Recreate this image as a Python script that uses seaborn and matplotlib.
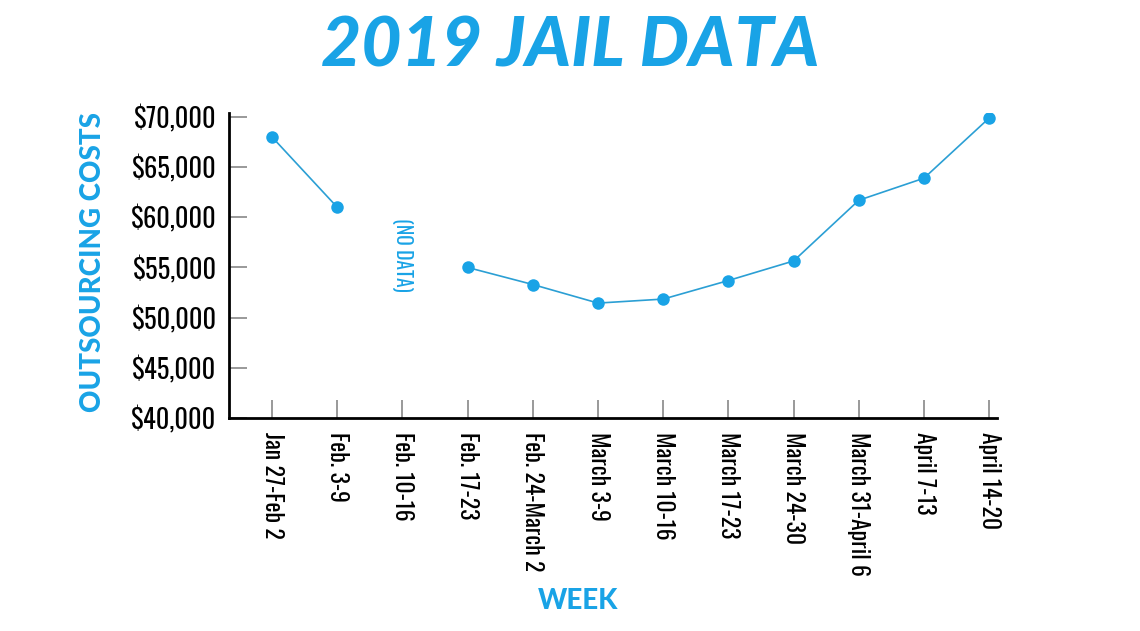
import matplotlib
matplotlib.use("Agg")
import matplotlib.pyplot as plt
import matplotlib.ticker as mticker
import numpy as np
import pandas as pd
import seaborn as sns

OUT = "out.png"
BLUE = "#19a3e6"
LINE = "#2b9fd4"

weeks = [
    "Jan 27-Feb 2", "Feb. 3-9", "Feb. 10-16", "Feb. 17-23", "Feb. 24-March 2",
    "March 3-9", "March 10-16", "March 17-23", "March 24-30",
    "March 31-April 6", "April 7-13", "April 14-20",
]
costs = [68000, 61000, np.nan, 55000, 53300, 51450, 51850, 53700, 55650,
         61700, 63900, 69900]
# line breaks at the missing week
segment = [0, 0, 0, 1, 1, 1, 1, 1, 1, 1, 1, 1]
y_ticks = [40000, 45000, 50000, 55000, 60000, 65000, 70000]

sns.set_theme(style="white")
plt.rcParams["font.family"] = ["Oswald", "Open Sans Condensed", "DejaVu Sans"]
HEAVY = ["Lato", "DejaVu Sans"]

df = pd.DataFrame({"pos": np.arange(len(weeks)), "week": weeks,
                   "cost": costs, "seg": segment}).dropna()

fig = plt.figure(figsize=(11.4, 6.31), dpi=100)
ax = fig.add_axes([0.2009, 0.3376, 0.6737, 0.4834])

sns.lineplot(data=df, x="pos", y="cost", units="seg", estimator=None,
             color=LINE, lw=1.2, marker="o", markersize=9,
             markeredgewidth=0, markerfacecolor=BLUE, ax=ax)

ax.set_xlim(-0.66, 11.12)
ax.set_ylim(40000, 70400)
ax.set_xticks(range(len(weeks)))
ax.set_xticklabels(weeks, rotation=270, ha="center", va="top", fontsize=17)
ax.set_yticks(y_ticks)
ax.yaxis.set_major_formatter(mticker.FuncFormatter(lambda v, _: f"${v:,.0f}"))
ax.tick_params(axis="y", labelsize=19, pad=9)
ax.tick_params(axis="both", direction="in", length=13, width=1.2,
               color="#888888", labelcolor="black", bottom=True, left=True)
ax.tick_params(axis="x", pad=10)

for side in ["top", "right"]:
    ax.spines[side].set_visible(False)
for side in ["left", "bottom"]:
    ax.spines[side].set_color("black")
    ax.spines[side].set_linewidth(2)

ax.set_xlabel("")
ax.set_ylabel("")
ax.text(2, 56300, "(NO DATA)", rotation=270, ha="center", va="center",
        color=BLUE, fontsize=14)

fig.text(0.5, 0.925, "2019 JAIL DATA", ha="center", va="center",
         color=BLUE, fontsize=50, fontweight="black", fontstyle="italic",
         family=HEAVY)
fig.text(0.0816, 0.585, "OUTSOURCING COSTS", rotation=90, ha="center",
         va="center", color=BLUE, fontsize=20, fontweight="black",
         family=HEAVY)
fig.text(0.507, 0.047, "WEEK", ha="center", va="center", color=BLUE,
         fontsize=20, fontweight="black", family=HEAVY)

fig.savefig(OUT, dpi=100)
